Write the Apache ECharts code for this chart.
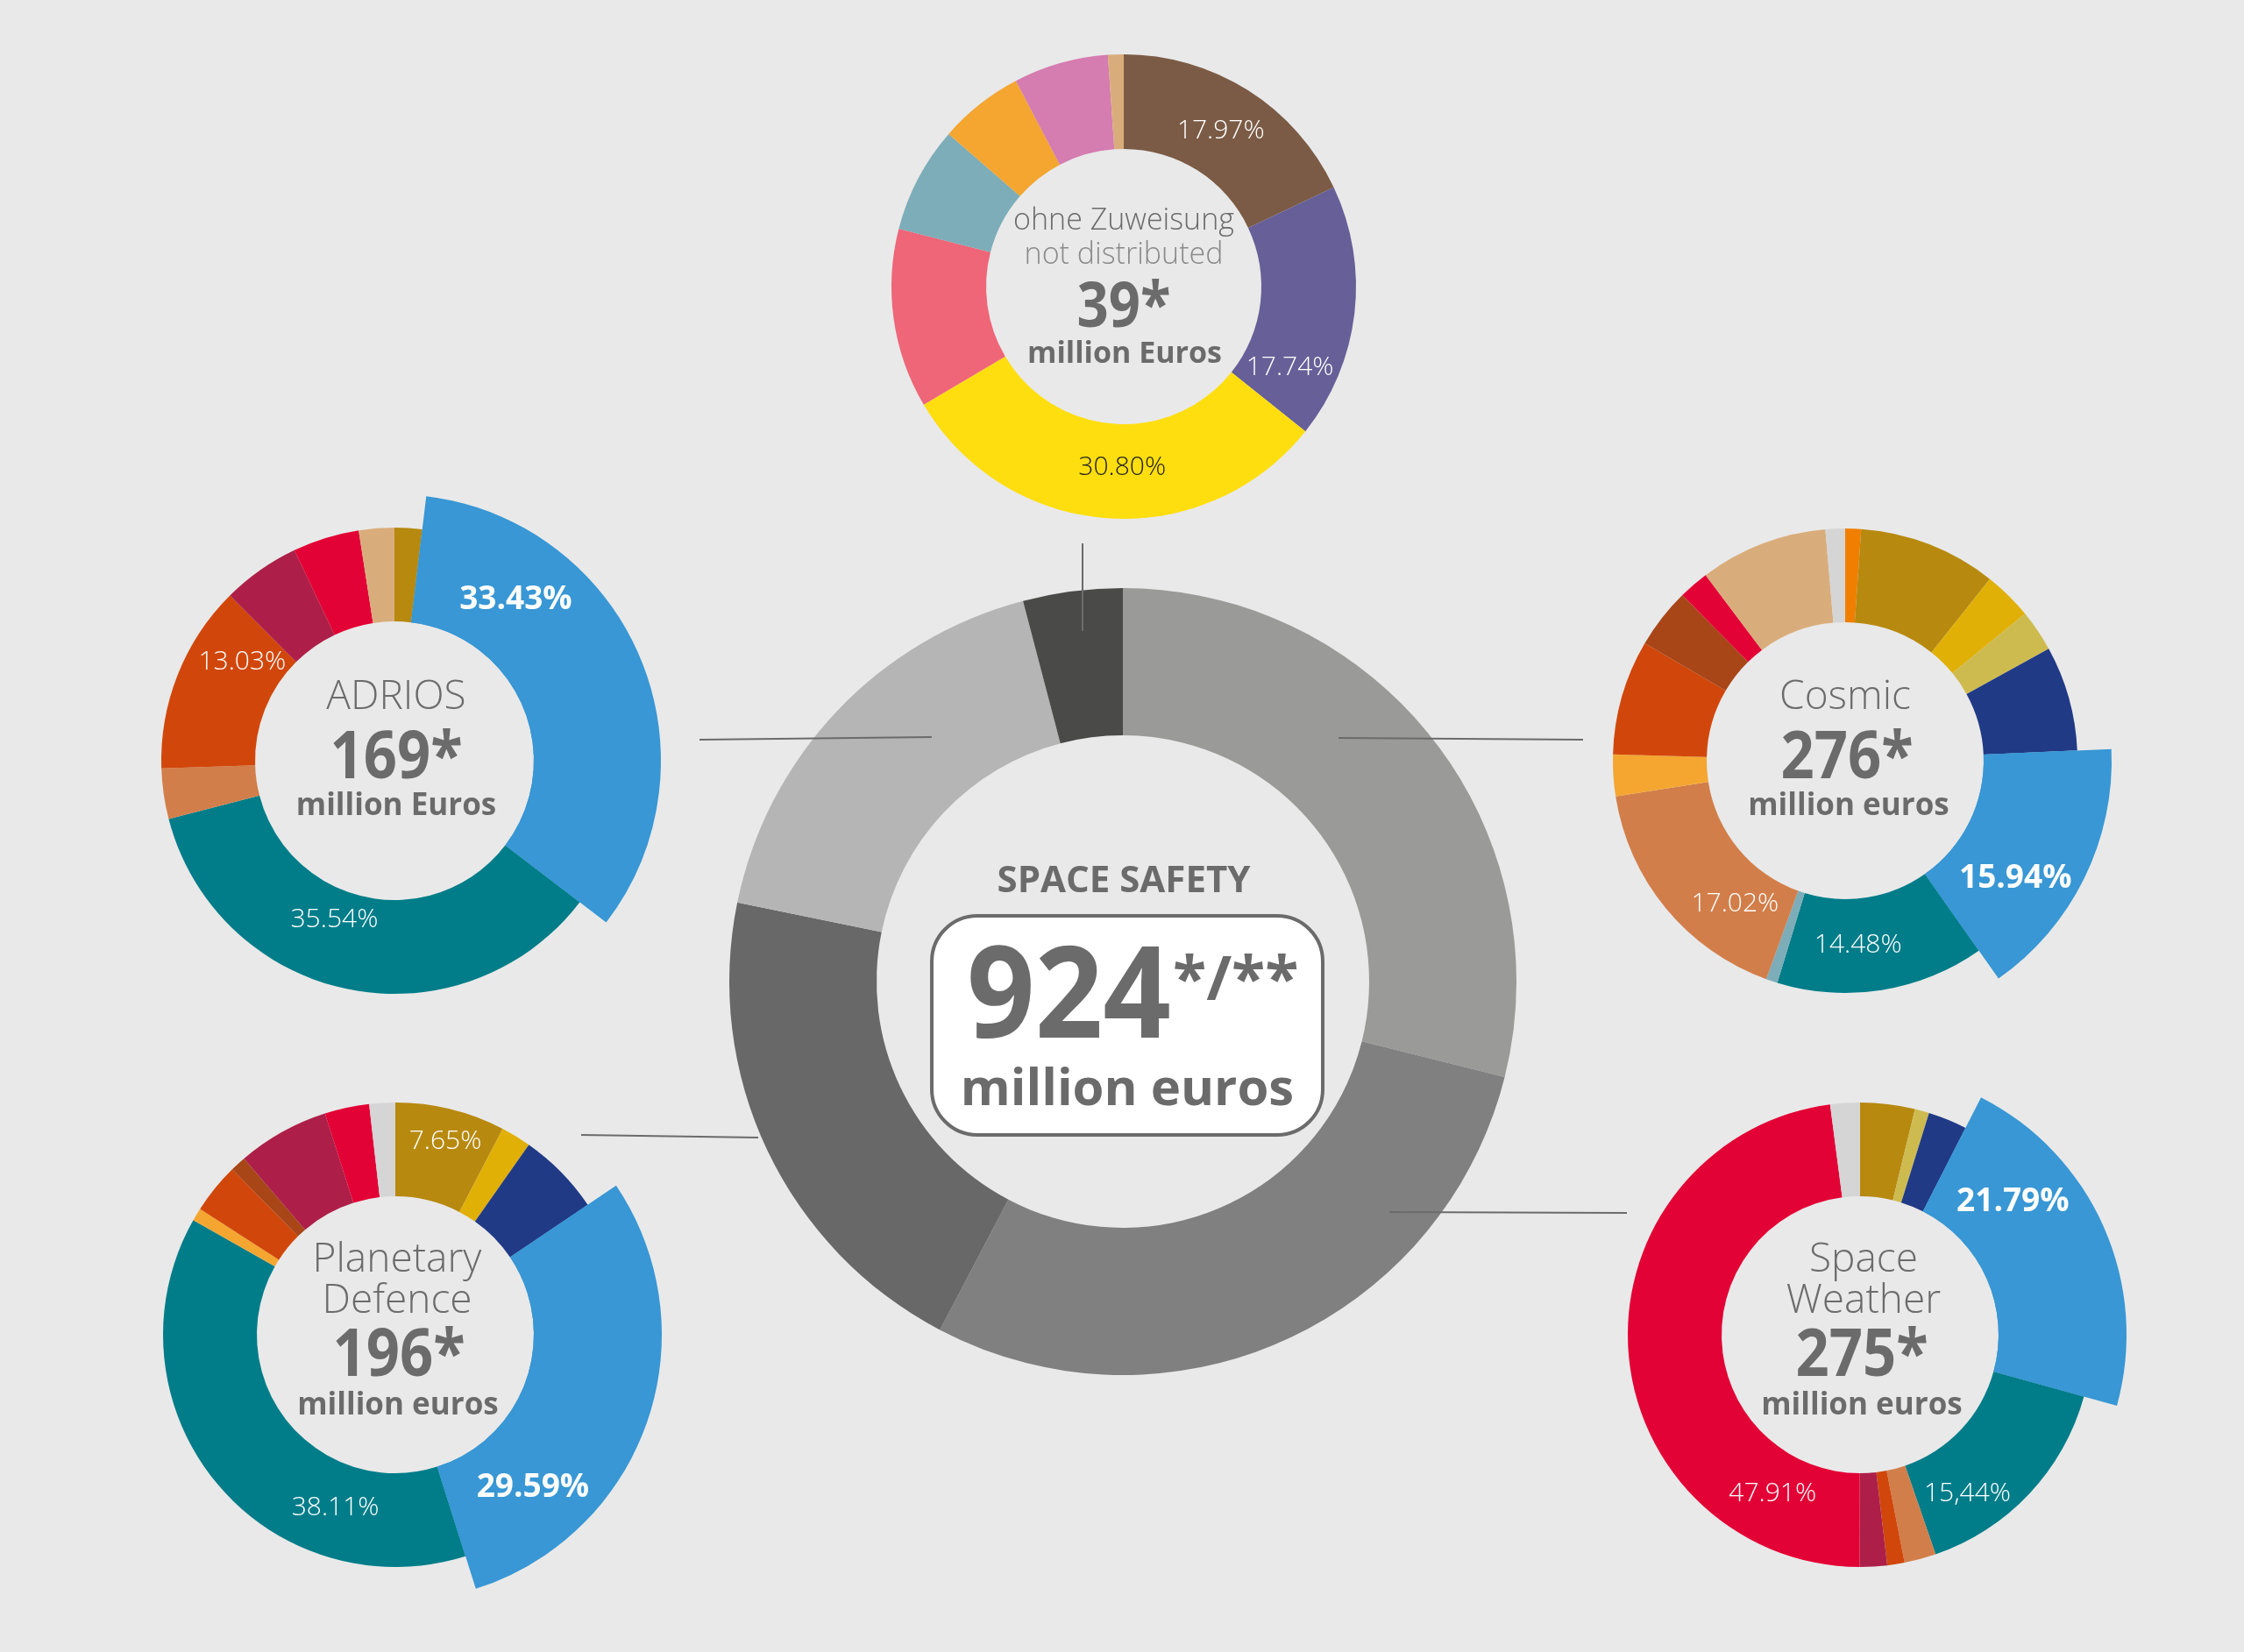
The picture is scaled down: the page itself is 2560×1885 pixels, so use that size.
<!DOCTYPE html>
<html>
<head>
<meta charset="utf-8">
<script src="https://cdn.jsdelivr.net/npm/echarts@6.0.0/dist/echarts.min.js"></script>
<style>
  html, body { margin: 0; padding: 0; background: #e9e9e9; }
  #chart { width: 2560px; height: 1885px; }
</style>
</head>
<body>
<div id="chart"></div>
<script>
// ---- data ----
// Space Safety total, clockwise from 12 o'clock
const mainNames = ['Cosmic', 'Space Weather', 'Planetary Defence', 'ADRIOS', 'ohne Zuweisung'];
const mainValues = [276, 275, 196, 169, 39];

// ohne Zuweisung / not distributed (39*)
const noneValues = [17.97, 17.74, 30.80, 12.5, 7.4, 5.9, 6.6, 1.09];
const noneLabels = ['17.97%', '17.74%', '30.80%', null, null, null, null, null];

// ADRIOS (169*)
const adriosValues = [1.9, 33.43, 35.54, 3.5, 13.03, 5.4, 4.6, 2.45];
const adriosLabels = [null, '33.43%', '35.54%', null, '13.03%', null, null, null];

// Cosmic (276*)
const cosmicValues = [1.1, 9.6, 3.4, 2.9, 7.3, 15.94, 14.48, 0.8, 17.02, 2.9, 8.0, 4.2, 2.1, 8.9, 1.36];
const cosmicLabels = [null, null, null, null, null, '15.94%', '14.48%', null, '17.02%', null, null, null, null, null, null];

// Planetary Defence (196*)
const planetValues = [7.65, 2.1, 5.8, 29.59, 38.11, 0.9, 3.5, 1.1, 6.4, 3.1, 1.8];
const planetLabels = ['7.65%', null, null, '29.59%', '38.11%', null, null, null, null, null, null];

// Space Weather (275*)
const weatherValues = [3.8, 1.0, 2.7, 21.79, 15.44, 2.2, 1.2, 1.9, 47.91, 2.06];
const weatherLabels = [null, null, null, '21.79%', '15,44%', null, null, null, '47.91%', null];

// ---- colours ----
const C = {
  ochre: '#b7890f', gold: '#e1b006', khaki: '#cebb50', navy: '#203a86', blue: '#3897d4',
  teal: '#007d89', tealgray: '#7cadb8', terra: '#d27e4a', lorange: '#f4a631', dorange: '#d1470b',
  rust: '#a84618', crimson: '#ad1f48', red: '#e30235', tan: '#d9ad7b', lgray: '#d5d5d5',
  orange: '#f07f00', brown: '#7b5b45', purple: '#675f97', yellow: '#ffde10', rose: '#ee6678',
  pink: '#d57cb0'
};
const mainColors = ['#9a9a98', '#808080', '#686868', '#b5b5b5', '#4a4a48'];
const noneColors = [C.brown, C.purple, C.yellow, C.rose, C.tealgray, C.lorange, C.pink, C.tan];
const adriosColors = [C.ochre, C.blue, C.teal, C.terra, C.dorange, C.crimson, C.red, C.tan];
const cosmicColors = [C.orange, C.ochre, C.gold, C.khaki, C.navy, C.blue, C.teal, C.tealgray,
  C.terra, C.lorange, C.dorange, C.rust, C.red, C.tan, C.lgray];
const planetColors = [C.ochre, C.gold, C.navy, C.blue, C.teal, C.lorange, C.dorange, C.rust,
  C.crimson, C.red, C.lgray];
const weatherColors = [C.ochre, C.khaki, C.navy, C.blue, C.teal, C.terra, C.dorange, C.crimson,
  C.red, C.lgray];

const FONT = '"Open Sans", "Noto Sans", sans-serif';
const GREY = '#6b6b6b';

// layout of the small rings; spots = label [angle deg clockwise from top, radius px]
const donuts = [
  { center: [1282, 327], r: [157, 265], big: 265, explode: -1,
    values: noneValues, colors: noneColors, labels: noneLabels,
    spots: { 0: [32, 209], 1: [116, 211], 2: [180.5, 206] } },
  { center: [450, 868], r: [159, 266], big: 304, explode: 1,
    values: adriosValues, colors: adriosColors, labels: adriosLabels,
    spots: { 1: [37, 230], 2: [200.7, 194], 4: [303, 207] } },
  { center: [2105, 868], r: [158, 265], big: 304, explode: 5,
    values: cosmicValues, colors: cosmicColors, labels: cosmicLabels,
    spots: { 5: [124.6, 236], 6: [176, 211], 8: [217.6, 206] } },
  { center: [451, 1523], r: [158, 265], big: 304, explode: 3,
    values: planetValues, colors: planetColors, labels: planetLabels,
    spots: { 0: [14.5, 228], 3: [138.1, 235], 4: [199.1, 209] } },
  { center: [2122, 1523], r: [158, 265], big: 304, explode: 3,
    values: weatherValues, colors: weatherColors, labels: weatherLabels,
    spots: { 3: [49, 231], 4: [146, 219], 8: [208.8, 207] } }
];

function pieBase(center, radius, z) {
  return {
    type: 'pie', center: center, radius: radius, startAngle: 90, clockwise: true,
    silent: true, animation: false, avoidLabelOverlap: false, z: z,
    labelLine: { show: false }, emphasis: { disabled: true }
  };
}

function donutSeries(d) {
  const under = Object.assign(pieBase(d.center, d.r, 2), {
    label: { show: false },
    data: d.values.map((v, i) => ({ value: v, itemStyle: { color: d.colors[i] } }))
  });
  const over = Object.assign(pieBase(d.center, [d.r[0], d.big], 3), {
    label: { show: true, position: 'inside' },
    data: d.values.map((v, i) => {
      const isBig = i === d.explode;
      return {
        value: v,
        itemStyle: { color: isBig ? d.colors[i] : 'rgba(0,0,0,0)' },
        label: {
          show: d.labels[i] != null,
          formatter: d.labels[i] || '',
          fontFamily: FONT,
          fontSize: isBig ? 37 : 30,
          fontWeight: isBig ? 'bold' : 300,
          color: d.colors[i] === C.yellow ? '#1e1e1e' : '#ffffff'
        }
      };
    }),
    labelLayout: function (p) {
      const s = d.spots[p.dataIndex];
      if (!s) return {};
      const a = s[0] * Math.PI / 180;
      return {
        x: d.center[0] + s[1] * Math.sin(a),
        y: d.center[1] - s[1] * Math.cos(a),
        align: 'center', verticalAlign: 'middle'
      };
    }
  });
  return [under, over];
}

const series = [
  Object.assign(pieBase([1281, 1120], [281, 449], 1), {
    label: { show: false },
    data: mainValues.map((v, i) => ({ name: mainNames[i], value: v, itemStyle: { color: mainColors[i] } }))
  })
];
donuts.forEach(d => { series.push.apply(series, donutSeries(d)); });

// ---- texts / connectors ----
function txt(x, y, text, size, weight, color, extra, sx) {
  return {
    type: 'text', x: x, y: y, z: 100, scaleX: sx || 1,
    style: Object.assign({
      text: text, fontSize: size, fontWeight: weight, fontFamily: FONT,
      fill: color || GREY, align: 'center', verticalAlign: 'middle'
    }, extra || {})
  };
}
function seg(x1, y1, x2, y2) {
  return { type: 'line', z: 100, shape: { x1: x1, y1: y1, x2: x2, y2: y2 },
           style: { stroke: GREY, lineWidth: 2 } };
}

const NUM = 0.88;  // narrower bold digits
const graphics = [
  seg(1235, 620, 1235, 720),
  seg(798, 844, 1063, 841),
  seg(1527, 842, 1806, 844),
  seg(663, 1295, 865, 1298),
  seg(1585, 1383, 1856, 1384),

  // top ring
  txt(1282, 252, 'ohne Zuweisung', 34, 300),
  txt(1282, 291, 'not distributed', 34, 300, '#8a8a8a'),
  txt(1282, 352, '39*', 72, 'bold', GREY, null, NUM),
  txt(1283, 404, 'million Euros', 34, 'bold'),
  // ADRIOS
  txt(452, 796, 'ADRIOS', 46, 300),
  txt(452, 866, '169*', 76, 'bold', GREY, null, NUM),
  txt(452, 920, 'million Euros', 35, 'bold'),
  // Cosmic
  txt(2105, 796, 'Cosmic', 46, 300),
  txt(2107, 866, '276*', 76, 'bold', GREY, null, NUM),
  txt(2109, 920, 'million euros', 35, 'bold'),
  // Planetary Defence
  txt(453, 1438, 'Planetary', 46, 300),
  txt(453, 1485, 'Defence', 46, 300),
  txt(455, 1548, '196*', 76, 'bold', GREY, null, NUM),
  txt(454, 1604, 'million euros', 35, 'bold'),
  // Space Weather
  txt(2126, 1438, 'Space', 46, 300),
  txt(2126, 1485, 'Weather', 46, 300),
  txt(2124, 1548, '275*', 76, 'bold', GREY, null, NUM),
  txt(2124, 1604, 'million euros', 35, 'bold'),

  // centre
  txt(1282, 1006, 'SPACE SAFETY', 42, 'bold'),
  { type: 'rect', z: 99, shape: { x: 1063, y: 1045, width: 446, height: 250, r: 52 },
    style: { fill: '#ffffff', stroke: GREY, lineWidth: 4 } },
  txt(1336, 1142, '924', 146, 'bold', GREY, { align: 'right' }, 0.93),
  txt(1338, 1086, '*/**', 70, 'bold', GREY, { align: 'left', verticalAlign: 'top' }),
  txt(1286, 1244, 'million euros', 58, 'bold')
];

const chart = echarts.init(document.getElementById('chart'));
chart.setOption({
  backgroundColor: '#e9e9e9',
  animation: false,
  series: series,
  graphic: { elements: graphics }
});
</script>
</body>
</html>
